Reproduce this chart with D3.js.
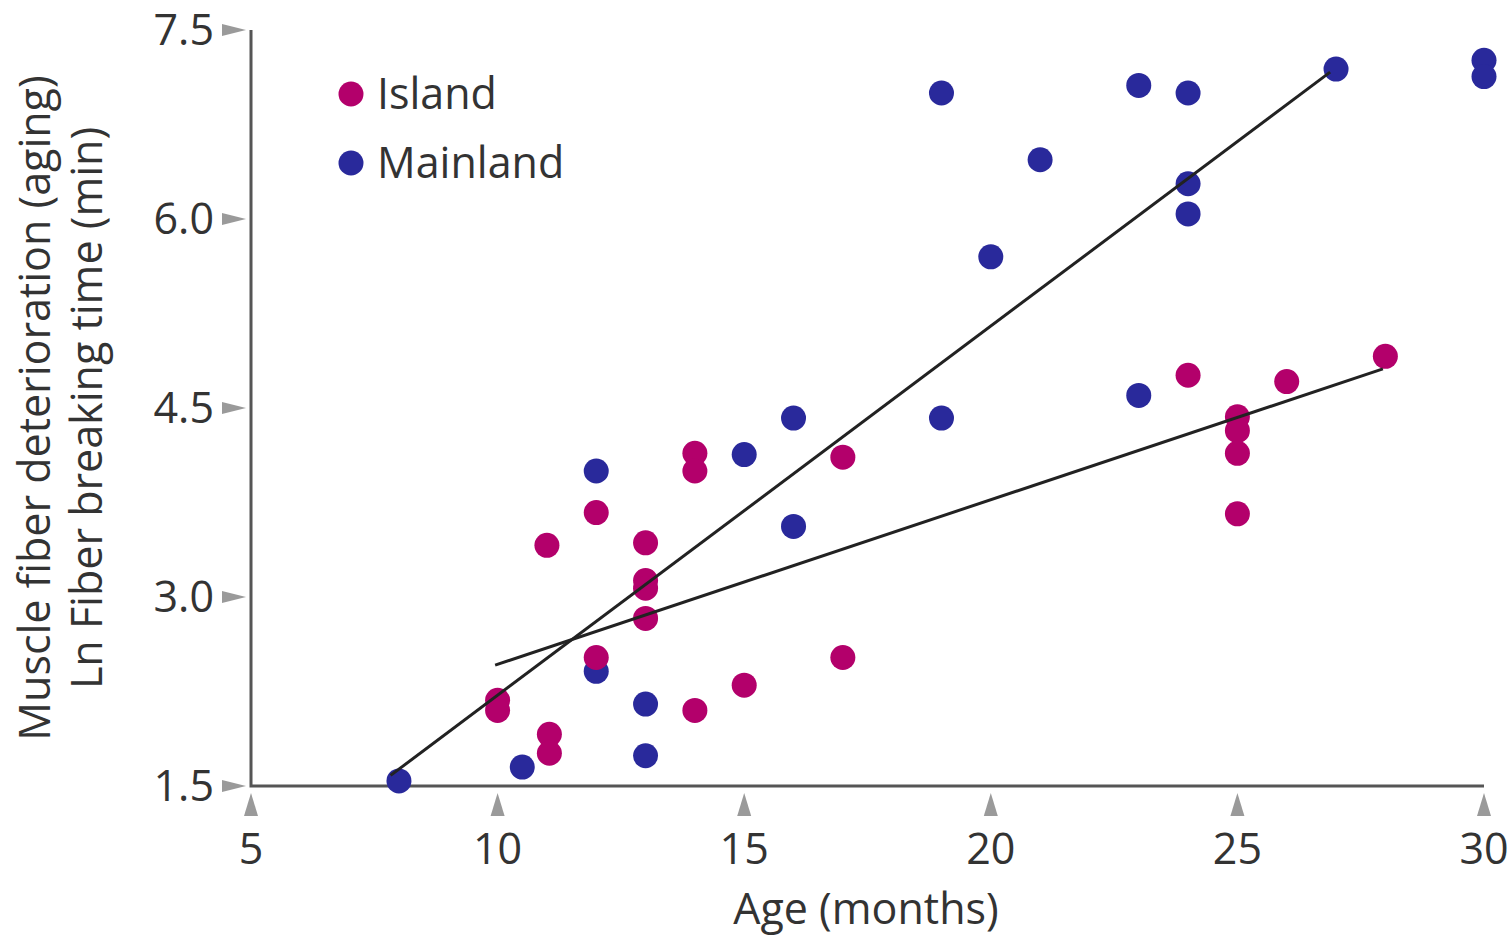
<!DOCTYPE html>
<html>
<head>
<meta charset="utf-8">
<script src="https://cdn.jsdelivr.net/npm/d3@7"></script>
<style>
  body { margin: 0; background: #fff; }
  text { font-family: 'Open Sans', sans-serif; fill: #333; }
</style>
</head>
<body>
<svg width="1511" height="936"></svg>
<script>
'use strict'

// Island (magenta)
const islandAge = [10, 10, 11, 11.05, 11.05, 12, 12, 13, 13, 13, 13, 14, 14, 14, 15, 17, 17, 24, 25, 25, 25, 25, 26, 28]
const islandLn = [2.18, 2.1, 3.41, 1.91, 1.76, 3.67, 2.52, 3.43, 3.13, 3.07, 2.83, 4.14, 4.0, 2.1, 2.3, 4.11, 2.52, 4.76, 4.43, 4.32, 4.14, 3.66, 4.71, 4.91]

// Mainland (blue)
const mainAge = [8, 10.5, 12, 12, 13, 13, 15, 16, 16, 19, 19, 20, 21, 23, 23, 24, 24, 24, 27, 30, 30]
const mainLn = [1.54, 1.65, 4.0, 2.41, 2.15, 1.74, 4.13, 4.42, 3.56, 7.0, 4.42, 5.7, 6.47, 7.06, 4.6, 7.0, 6.28, 6.04, 7.19, 7.26, 7.13]

// fitted lines: [fromAge, toAge], slope, intercept
const mainFit = { span: [7.83, 26.88], slope: 0.293, intercept: -0.71 }
const islandFit = { span: [9.95, 27.95], slope: 0.1306, intercept: 1.16 }

const xTicks = [5, 10, 15, 20, 25, 30]
const yTicks = [1.5, 3.0, 4.5, 6.0, 7.5]

const legendNames = ['Island', 'Mainland']
const colors = { Island: '#b3006b', Mainland: '#29299b' }

const svg = d3.select('svg')
const x = d3.scaleLinear().domain([5, 30]).range([251, 1484])
const y = d3.scaleLinear().domain([1.5, 7.5]).range([786, 30])

// y tick markers
svg.selectAll('.ytick')
  .data(yTicks)
  .enter()
  .append('path')
  .attr('d', (d) => `M${x(5) - 29},${y(d) - 6} L${x(5) - 5},${y(d)} L${x(5) - 29},${y(d) + 6} Z`)
  .style('fill', '#9a9a9a')

svg.selectAll('.ylab')
  .data(yTicks)
  .enter()
  .append('text')
  .attr('x', 214)
  .attr('y', (d) => y(d))
  .attr('dy', '0.36em')
  .attr('text-anchor', 'end')
  .style('font-size', '43px')
  .text((d) => d.toFixed(1))

// x tick markers
svg.selectAll('.xtick')
  .data(xTicks)
  .enter()
  .append('path')
  .attr('d', (d) => `M${x(d)},${y(1.5) + 7} L${x(d) + 7},${y(1.5) + 30} L${x(d) - 7},${y(1.5) + 30} Z`)
  .style('fill', '#9a9a9a')

svg.selectAll('.xlab')
  .data(xTicks)
  .enter()
  .append('text')
  .attr('x', (d) => x(d))
  .attr('y', 864)
  .attr('text-anchor', 'middle')
  .style('font-size', '43px')
  .text((d) => d)

// axes lines
svg.append('path')
  .attr('d', `M${x(5)},${y(7.5)} L${x(5)},${y(1.5)} L${x(30)},${y(1.5)}`)
  .style('fill', 'none')
  .style('stroke', '#555')
  .style('stroke-width', 3)

// titles
svg.append('text')
  .attr('x', 866)
  .attr('y', 924)
  .attr('text-anchor', 'middle')
  .style('font-size', '43px')
  .text('Age (months)')

svg.append('text')
  .attr('transform', 'translate(50, 408) rotate(-90)')
  .attr('text-anchor', 'middle')
  .style('font-size', '43px')
  .text('Muscle fiber deterioration (aging)')

svg.append('text')
  .attr('transform', 'translate(102, 408) rotate(-90)')
  .attr('text-anchor', 'middle')
  .style('font-size', '43px')
  .text('Ln Fiber breaking time (min)')

// points
const drawPoints = (ages, vals, color) => {
  svg.append('g')
    .selectAll('circle')
    .data(ages.map((a, i) => [a, vals[i]]))
    .enter()
    .append('circle')
    .attr('cx', (d) => x(d[0]))
    .attr('cy', (d) => y(d[1]))
    .attr('r', 12.5)
    .style('fill', color)
}

drawPoints(mainAge, mainLn, colors.Mainland)
drawPoints(islandAge, islandLn, colors.Island)

// fit lines
const line = d3.line().x((d) => x(d[0])).y((d) => y(d[1]))
;[mainFit, islandFit].forEach((f) => {
  svg.append('path')
    .attr('d', line(f.span.map((a) => [a, f.intercept + f.slope * a])))
    .style('fill', 'none')
    .style('stroke', '#222')
    .style('stroke-width', 3)
})

// legend
const legend = svg.selectAll('.legend')
  .data(legendNames)
  .enter()
  .append('g')
  .attr('transform', (d, i) => `translate(351, ${94 + i * 69})`)

legend.append('circle')
  .attr('r', 12.5)
  .style('fill', (d) => colors[d])

legend.append('text')
  .attr('x', 26)
  .attr('dy', '0.36em')
  .style('font-size', '43px')
  .text((d) => d)
</script>
</body>
</html>
